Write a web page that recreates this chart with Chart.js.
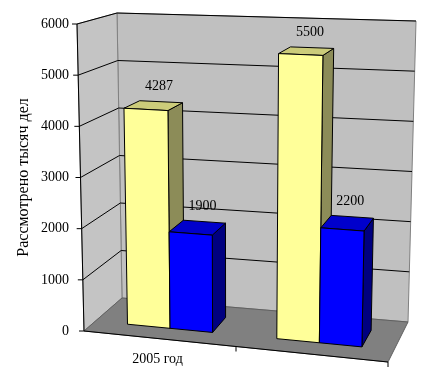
<!DOCTYPE html>
<html>
<head>
<meta charset="utf-8">
<script src="https://cdn.jsdelivr.net/npm/chart.js@4"></script>
<style>
  html, body { margin: 0; padding: 0; background: #fff; }
  #wrap { width: 427px; height: 370px; }
</style>
</head>
<body>
<div id="wrap"><canvas id="c" width="427" height="370"></canvas></div>
<script>
// data
const categories = ['2005 год', ''];
const seriesA = [4287, 5500];   // yellow
const seriesB = [1900, 2200];   // blue
const yTicks = [0, 1000, 2000, 3000, 4000, 5000, 6000];
const yTitle = 'Рассмотрено тысяч дел';

const FONT = '"Liberation Serif", "Times New Roman", serif';

// box faces: [front, top, side]
const faces = [
    ['#ffff99', '#cccc7a', '#8c8c58'],
    ['#0000ff', '#0000cc', '#000080']
];
const depthFront = 0.3, depthBack = 0.72;

// trilinear projection of the 3d box; u across, v up, w into the back
function makeProj(a) {
    const L = a.left, R = a.right, T = a.top, B = a.bottom;
    const F00 = [L + 4, B], F10 = [R - 2, B + 31], F01 = [L - 3, T], F11 = [R + 5, T + 13];
    const B00 = [L + 42, B - 33], B10 = [R + 18, B - 9], B01 = [L + 37, T - 11], B11 = [R + 26, T - 3];
    const lerp = (p, q, t) => [p[0] + (q[0] - p[0]) * t, p[1] + (q[1] - p[1]) * t];
    return function(u, v, w) {
        const f = lerp(lerp(F00, F10, u), lerp(F01, F11, u), v);
        const b = lerp(lerp(B00, B10, u), lerp(B01, B11, u), v);
        return lerp(f, b, w);
    };
}

function poly(ctx, pts, fill, stroke) {
    ctx.beginPath();
    ctx.moveTo(pts[0][0], pts[0][1]);
    for (let i = 1; i < pts.length; i++) ctx.lineTo(pts[i][0], pts[i][1]);
    ctx.closePath();
    if (fill) { ctx.fillStyle = fill; ctx.fill(); }
    if (stroke) { ctx.strokeStyle = stroke; ctx.stroke(); }
}

function line(ctx, p, q, color) {
    ctx.beginPath();
    ctx.moveTo(p[0], p[1]);
    ctx.lineTo(q[0], q[1]);
    ctx.strokeStyle = color;
    ctx.stroke();
}

const box3d = {
    id: 'box3d',
    beforeDatasetsDraw(chart) {
        const ctx = chart.ctx, a = chart.chartArea;
        const P = makeProj(a);
        const ys = chart.scales.y;
        const vOf = px => (a.bottom - px) / (a.bottom - a.top);
        const uOf = px => (px - a.left) / (a.right - a.left);
        ctx.save();
        ctx.lineWidth = 1;

        // walls and floor
        poly(ctx, [P(0, 0, 1), P(1, 0, 1), P(1, 1, 1), P(0, 1, 1)], '#c0c0c0', '#808080');
        poly(ctx, [P(0, 0, 0), P(0, 0, 1), P(0, 1, 1), P(0, 1, 0)], '#c4c4c4', '#808080');
        poly(ctx, [P(0, 0, 0), P(1, 0, 0), P(1, 0, 1), P(0, 0, 1)], '#808080', '#606060');

        // gridlines
        ys.ticks.forEach(t => {
            if (t.value === 0) return;
            const v = vOf(ys.getPixelForValue(t.value));
            line(ctx, P(0, v, 0), P(0, v, 1), '#000');
            line(ctx, P(0, v, 1), P(1, v, 1), '#000');
        });

        // axes
        line(ctx, P(0, 0, 0), P(0, 1, 0), '#000');
        ys.ticks.forEach(t => {
            const p = P(0, vOf(ys.getPixelForValue(t.value)), 0);
            line(ctx, [p[0] - 5, p[1]], [p[0], p[1]], '#000');
        });
        line(ctx, P(0, 0, 0), P(1, 0, 0), '#000');
        for (let i = 1; i <= categories.length; i++) {
            const p = P(i / categories.length, 0, 0);
            line(ctx, p, [p[0], p[1] + 5], '#000');
        }

        // bars, left to right so nearer faces cover the side faces
        const items = [];
        chart.data.datasets.forEach((ds, di) => {
            chart.getDatasetMeta(di).data.forEach((el, i) => {
                items.push({ el, di, val: ds.data[i] });
            });
        });
        items.sort((p, q) => p.el.x - q.el.x);
        items.forEach(it => {
            const el = it.el, c = faces[it.di];
            const u0 = uOf(el.x - el.width / 2), u1 = uOf(el.x + el.width / 2);
            const v0 = vOf(el.base), v1 = vOf(el.y);
            const w0 = depthFront, w1 = depthBack;
            poly(ctx, [P(u1, v0, w0), P(u1, v0, w1), P(u1, v1, w1), P(u1, v1, w0)], c[2], '#000');
            poly(ctx, [P(u0, v1, w0), P(u1, v1, w0), P(u1, v1, w1), P(u0, v1, w1)], c[1], '#000');
            poly(ctx, [P(u0, v0, w0), P(u1, v0, w0), P(u1, v1, w0), P(u0, v1, w0)], c[0], '#000');
            const lp = P((u0 + u1) / 2, v1, w1);
            ctx.fillStyle = '#000';
            ctx.font = '14px ' + FONT;
            ctx.textAlign = 'center';
            ctx.textBaseline = 'middle';
            ctx.fillText(String(it.val), lp[0] - 2, lp[1] - 15);
        });
        ctx.restore();
    }
};

const clear = 'rgba(0,0,0,0)';
new Chart(document.getElementById('c'), {
    type: 'bar',
    data: {
        labels: categories,
        datasets: [
            { data: seriesA, backgroundColor: clear, borderWidth: 0 },
            { data: seriesB, backgroundColor: clear, borderWidth: 0 }
        ]
    },
    options: {
        responsive: false,
        animation: false,
        events: [],
        layout: { padding: { left: 10, top: 24, right: 37, bottom: 0 } },
        datasets: { bar: { categoryPercentage: 0.57, barPercentage: 1.0 } },
        plugins: { legend: { display: false }, tooltip: { enabled: false } },
        scales: {
            x: {
                grid: { display: false },
                border: { display: false },
                ticks: { color: '#000', font: { family: FONT, size: 14 }, padding: 12, maxRotation: 0 },
                afterFit(s) { s.height = 39; }
            },
            y: {
                min: 0, max: 6000,
                afterBuildTicks(s) { s.ticks = yTicks.map(v => ({ value: v })); },
                grid: { display: false },
                border: { display: false },
                ticks: {
                    color: '#000', font: { family: FONT, size: 14 }, padding: 3,
                    callback: v => String(v)
                },
                title: { display: true, text: yTitle, color: '#000', font: { family: FONT, size: 16 }, padding: { top: 4, bottom: 4 } },
                afterFit(s) { s.width = 70; }
            }
        }
    },
    plugins: [box3d]
});
</script>
</body>
</html>
